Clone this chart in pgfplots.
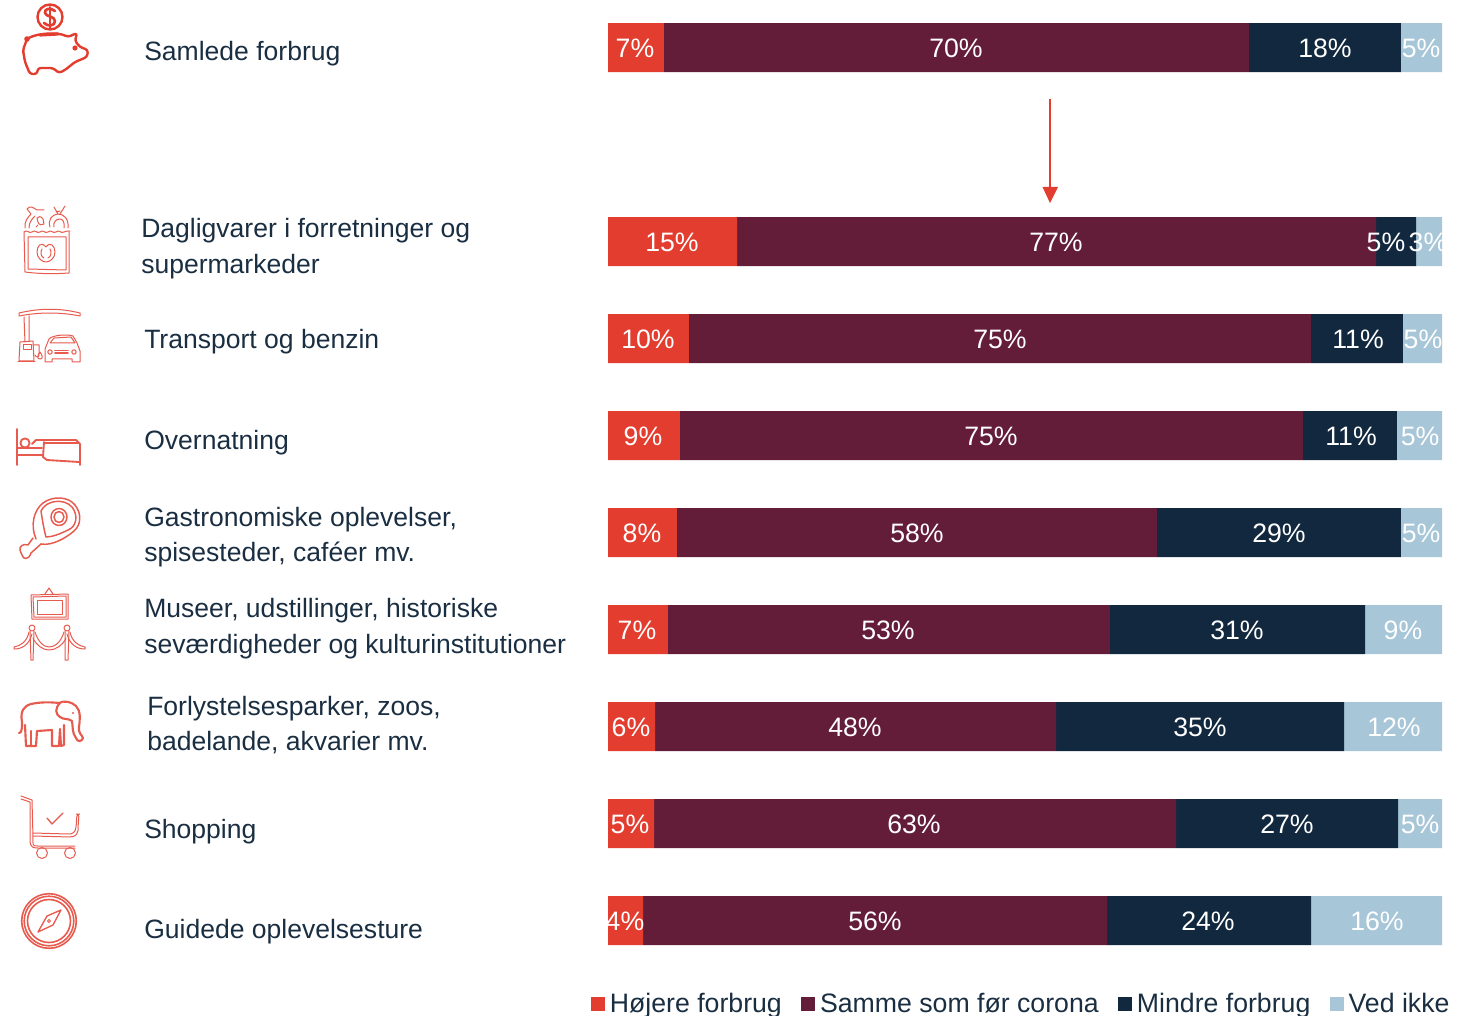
\documentclass[border=0pt]{standalone}
\usepackage{fontspec}
\setmainfont{Liberation Sans}
\usepackage{pgfplots}
\usepackage{pgfplotstable}
\pgfplotsset{compat=1.18}
\definecolor{cRed}{HTML}{E33D2F}
\definecolor{cMaroon}{HTML}{641D39}
\definecolor{cNavy}{HTML}{12283E}
\definecolor{cLight}{HTML}{A7C6D8}
\definecolor{cText}{HTML}{1A2E42}
% segment widths in percent, y = bar centre on a 1016-unit scale
\pgfplotstableread{
y a b c d
47.5 6.71 70.14 18.23 4.92
241.5 15.47 76.62 4.80 3.12
338.5 9.71 74.58 11.03 4.68
435.5 8.63 74.70 11.27 5.40
532.5 8.27 57.55 29.26 4.92
629.5 7.19 53.00 30.58 9.23
726.5 5.64 48.08 34.53 11.75
823.5 5.52 62.59 26.62 5.28
920.5 4.20 55.64 24.46 15.71
}\bars
\pgfplotstableread{
x y v
635 48.5 7
956 48.5 70
1325 48.5 18
1421 48.5 5
672 242.5 15
1056 242.5 77
1386 242.5 5
1428 242.5 3
648 339.5 10
1000 339.5 75
1358 339.5 11
1423 339.5 5
643 436.5 9
991 436.5 75
1351 436.5 11
1420 436.5 5
642 533.5 8
917 533.5 58
1279 533.5 29
1421 533.5 5
637 630.5 7
888 630.5 53
1237 630.5 31
1403 630.5 9
631 727.5 6
855 727.5 48
1200 727.5 35
1394 727.5 12
630 824.5 5
914 824.5 63
1287 824.5 27
1420 824.5 5
625 921.5 4
875 921.5 56
1208 921.5 24
1377 921.5 16
}\labels
\begin{document}
\begin{tikzpicture}
\useasboundingbox (0,-762pt) rectangle (1101pt,0pt);
\begin{axis}[
  at={(456pt,0pt)},anchor=north west,
  scale only axis,width=625.5pt,height=762pt,
  xmin=0,xmax=100,ymin=0,ymax=1016,y dir=reverse,
  hide axis,clip=false,
  xbar stacked,bar width=36.75pt,
  legend columns=-1,
  legend style={at={(-13pt,-752.75pt)},anchor=west,draw=none,fill=none,inner sep=0pt,
    font=\fontsize{20}{24}\selectfont,text=cText,
    /tikz/every odd column/.append style={column sep=2.25pt},
    /tikz/every even column/.append style={column sep=12.95pt},
    nodes={inner xsep=1.5pt,inner ysep=0pt}},
  legend image code/.code={\fill[#1] (0pt,-5.25pt) rectangle (10.5pt,5.25pt);},
]
\addplot[fill=cRed,draw=none] table[x=a,y=y]{\bars};
\addplot[fill=cMaroon,draw=none] table[x=b,y=y]{\bars};
\addplot[fill=cNavy,draw=none] table[x=c,y=y]{\bars};
\addplot[fill=cLight,draw=none] table[x=d,y=y]{\bars};
\legend{Højere forbrug,Samme som før corona,Mindre forbrug,Ved ikke}
\end{axis}
\begin{axis}[
  at={(0pt,0pt)},anchor=north west,
  scale only axis,width=1101pt,height=762pt,
  xmin=0,xmax=1468,ymin=0,ymax=1016,y dir=reverse,
  hide axis,clip=false,
]
\addplot[only marks,mark=none,point meta=explicit symbolic,
  nodes near coords={\pgfplotspointmeta\%},
  nodes near coords style={anchor=center,text=white,inner sep=0pt,font=\fontsize{20}{24}\selectfont}]
  table[x=x,y=y,meta=v]{\labels};
\end{axis}
\begin{scope}[x=0.75pt,y=-0.75pt]
  % arrow
  \draw[cRed,line width=1.9pt] (1050,99)--(1050,190);
  \fill[cRed] (1042.5,187)--(1058,187)--(1050,203)--cycle;
  % category texts
  \begin{scope}[every node/.style={anchor=base west,inner sep=0pt,text=cText,font=\fontsize{19.9}{24}\selectfont}]
  \node at (144,61) {Samlede forbrug};
  \node at (141,238) {Dagligvarer i forretninger og};
  \node at (141,274) {supermarkeder};
  \node at (144,349) {Transport og benzin};
  \node at (144,449) {Overnatning};
  \node at (144,526) {Gastronomiske oplevelser,};
  \node at (144,561) {spisesteder, caféer mv.};
  \node at (144,617) {Museer, udstillinger, historiske};
  \node at (144,653) {seværdigheder og kulturinstitutioner};
  \node at (147,715) {Forlystelsesparker, zoos,};
  \node at (147,750) {badelande, akvarier mv.};
  \node at (144,838) {Shopping};
  \node at (144,938) {Guidede oplevelsesture};
  \end{scope}
  % piggy bank
  \begin{scope}[cRed,line width=1.8pt,line join=round,line cap=round]
    \draw (50,17) circle[radius=12.5];
    \draw[line width=2pt] (55,11) .. controls (50,7) and (44,9) .. (45,13) .. controls (46,17) and (55,16) .. (55,21) .. controls (55,26) and (48,27) .. (44,23);
    \draw[line width=1.5pt] (50,7)--(50,28);
    \draw[rounded corners=2pt] (27,39) .. controls (38,33) and (58,32) .. (68,37) -- (77,33) -- (75,41) -- (80,47) -- (88,50) -- (87,57) -- (75,62) -- (65,70) -- (59,73) -- (53,68) -- (38,68) -- (37,74) -- (30,74) -- (25,62) -- (23,50) -- cycle;
    \fill (27,39) circle[radius=2.8];
    \draw[line width=2.4pt] (40,35)--(58,34);
    \fill (75,48) circle[radius=2.6];
  \end{scope}
  % thin icons
  \begin{scope}[cRed!85,line width=0.75pt,line join=round,line cap=round]
    % groceries
    \draw (24,232) -- (25,272) .. controls (40,274) and (55,274) .. (69,273) -- (69,232);
    \draw (28,237) -- (28,269) -- (66,270) -- (66,237) -- cycle;
    \draw (24,232) .. controls (27,229) and (29,234) .. (32,232) .. controls (35,229) and (37,234) .. (40,232) .. controls (43,229) and (45,234) .. (48,232) .. controls (51,229) and (53,234) .. (56,232) .. controls (59,229) and (61,234) .. (64,232) .. controls (66,230) and (68,232) .. (70,231);
    \draw (46,247) .. controls (41,241) and (37,246) .. (37,252) .. controls (37,258) and (42,262) .. (46,262) .. controls (50,262) and (55,258) .. (55,252) .. controls (55,246) and (50,241) .. (46,247) -- cycle;
    \draw (42,249) .. controls (40,252) and (41,257) .. (44,258);
    \draw (50,249) .. controls (52,252) and (51,257) .. (48,258);
    \draw (25,228) .. controls (24,222) and (28,217) .. (31,214) -- (27,209) .. controls (30,205) and (34,208) .. (37,210) -- (44,210);
    \draw (29,228) .. controls (29,222) and (32,219) .. (35,216);
    \draw (37,218) .. controls (38,216) and (41,216) .. (43,219) -- (44,224) .. controls (42,226) and (39,225) .. (38,222) -- cycle;
    \draw (36,227) -- (38,225);
    \draw (50,227) .. controls (48,220) and (51,215) .. (58,214) .. controls (64,214) and (69,219) .. (68,228);
    \draw (54,227) .. controls (53,222) and (56,219) .. (60,219) .. controls (63,219) and (65,223) .. (64,228);
    \draw (58,214) -- (54,207) (60,214) -- (65,206) (56,212)--(60,211);
    % gas station
    \draw (19,313) .. controls (40,308) and (60,308) .. (80,313) -- (80,316) .. controls (60,312) and (40,312) .. (19,316) -- cycle;
    \draw (24,317) -- (25,342) (29,316) -- (29,342);
    \draw (20,342) -- (33,341) -- (34,361) -- (19,361) -- cycle;
    \draw (23,345) rectangle (31,350);
    \draw (18,362) -- (35,362);
    \draw (33,345) -- (39,345) -- (39,353) .. controls (40,358) and (36,358) .. (35,355);
    \draw (40,352) .. controls (37,356) and (37,359) .. (40,359) .. controls (43,359) and (43,356) .. (40,352);
    \draw (45,362) -- (45,349) -- (49,339) .. controls (52,335) and (68,334) .. (73,336) -- (77,343) -- (80,351) -- (80,362) -- (72,362) -- (72,359) -- (52,359) -- (52,362) -- cycle;
    \draw (50,343) -- (54,338) -- (71,337) -- (75,343) -- cycle;
    \draw (50,352) circle[radius=2.2] (74,352) circle[radius=2.2];
    \draw[line width=1.2pt] (55,350.5) -- (68,350.5) (55,353) -- (68,353);
    % bed
    \begin{scope}[line width=1.4pt]
    \draw (17,429) -- (17,465);
    \draw (17,448) -- (42,448) (17,455) -- (42,455);
    \draw (25,443) circle[radius=4.6];
    \draw (32,444) -- (36,440) -- (76,440) -- (80,444) -- (80,465);
    \draw (44,443) -- (78,443);
    \draw (44,442) -- (43,457) -- (47,460) -- (79,462);
    \end{scope}
    % ham
    \begin{scope}[line width=1.1pt]
    \draw (36,539) .. controls (30,525) and (34,510) .. (43,503) .. controls (52,496) and (68,496) .. (75,505) .. controls (82,514) and (81,525) .. (74,531) .. controls (66,538) and (52,546) .. (41,544);
    \draw (41,511) .. controls (46,500) and (64,498) .. (72,507) .. controls (79,516) and (76,527) .. (68,530) .. controls (60,534) and (52,537) .. (46,537) .. controls (44,530) and (42,518) .. (41,511);
    \draw (59,517) ellipse[x radius=8,y radius=8.5];
    \draw (59,517) ellipse[x radius=5,y radius=5.5];
    \draw (33,538) -- (28,545) .. controls (23,543) and (19,547) .. (20,550) .. controls (20,553) and (22,553) .. (22,555) .. controls (23,560) and (29,560) .. (31,553) -- (41,544);
    \end{scope}
    % museum
    \draw (31,595) -- (68,594) -- (68,619) -- (32,619) -- cycle;
    \draw (33,597) -- (66,596) -- (66,617) -- (34,617) -- cycle;
    \draw (37,600) -- (62,600) -- (62,614) -- (37,614) -- cycle;
    \draw (45,594) -- (49,588) -- (53,594);
    \draw (32,628) circle[radius=3] (67,628) circle[radius=3];
    \draw (30,631) -- (31,660) -- (33,660) -- (34,631);
    \draw (65,631) -- (65,660) -- (68,660) -- (69,631);
    \draw (29,632) .. controls (27,642) and (20,646) .. (14,647) -- (14,649) .. controls (22,649) and (29,645) .. (32,634);
    \draw (35,632) .. controls (38,642) and (44,647) .. (49,647) .. controls (55,647) and (61,642) .. (64,632);
    \draw (33,638) .. controls (36,645) and (43,650) .. (49,650) .. controls (56,650) and (63,645) .. (66,638);
    \draw (70,632) .. controls (72,642) and (79,646) .. (85,647) -- (85,649) .. controls (77,649) and (70,645) .. (67,634);
    % elephant
    \begin{scope}[line width=1.6pt]
    \draw (19,733) .. controls (22,733) and (22,728) .. (22,722) .. controls (20,711) and (24,706) .. (31,704) .. controls (40,702) and (50,702) .. (59,703);
    \draw (59,703) .. controls (64,700) and (72,702) .. (76,706) .. controls (81,711) and (80,720) .. (79,727) .. controls (78,733) and (82,735) .. (83,738) .. controls (82,742) and (77,742) .. (76,738);
    \draw (60,703) .. controls (55,708) and (55,714) .. (60,717) .. controls (64,720) and (68,718) .. (72,721) .. controls (73,727) and (72,733) .. (76,738);
    \draw (25,725) -- (26,746) -- (36,746) -- (37,731) -- (52,730) -- (52,746) -- (59,746) -- (60,729) -- (61,746) -- (64,745) -- (64,725);
    \draw (31,731) -- (31,745);
    \fill (73,713) circle[radius=1.2];
    \end{scope}
    % cart
    \draw (21,796) -- (32,800) -- (33,838) .. controls (33,845) and (32,846) .. (38,846) -- (75,846);
    \draw (21,799) -- (30,802) -- (30,840) .. controls (30,848) and (34,848) .. (38,848) -- (75,848);
    \draw[rounded corners=2pt] (33,836) -- (70,837) .. controls (76,836) and (78,833) .. (78,828) -- (79,814) -- (77,814) -- (76,828) .. controls (75,831) and (73,834) .. (68,834) -- (33,833);
    \draw (42,853) circle[radius=5.5] (70,853) circle[radius=5.5];
    \draw[line width=1pt] (47,818) -- (52,824) -- (63,813);
    % compass
    \draw[line width=1.2pt] (49,921) circle[radius=27.3];
    \draw[line width=1.2pt] (49,921) circle[radius=24.8];
    \draw[line width=1.2pt] (49,921) circle[radius=21.5];
    \draw[line width=1pt] (61,910) -- (47,916) -- (38,932) -- (53,925) -- cycle;
    \draw (49,921) circle[radius=1.5];
  \end{scope}
\end{scope}
\end{tikzpicture}
\end{document}
